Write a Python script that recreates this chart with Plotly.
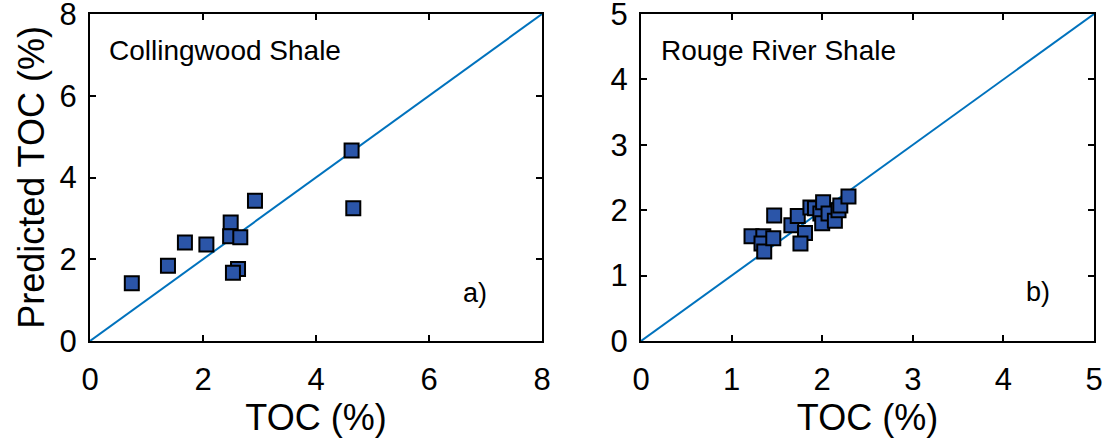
import plotly.graph_objects as go

# Collingwood Shale (panel a)
cw_toc = [0.74, 1.38, 1.68, 2.06, 2.49, 2.48, 2.66, 2.92, 2.62, 2.53, 4.63, 4.66]
cw_pred = [1.41, 1.84, 2.41, 2.36, 2.90, 2.56, 2.54, 3.43, 1.76, 1.67, 4.66, 3.25]

# Rouge River Shale (panel b)
rr_toc = [1.22, 1.35, 1.33, 1.36, 1.46, 1.47, 1.66, 1.73, 1.81, 1.76,
          1.87, 1.92, 1.98, 2.00, 2.01, 2.07, 2.14, 2.18, 2.20, 2.29]
rr_pred = [1.60, 1.60, 1.49, 1.37, 1.57, 1.92, 1.77, 1.91, 1.65, 1.49,
           2.04, 2.03, 1.95, 1.80, 2.12, 1.95, 1.84, 2.00, 2.07, 2.21]

cw_range = [0, 8]
rr_range = [0, 5]
cw_ticks = [0, 2, 4, 6, 8]
rr_ticks = [0, 1, 2, 3, 4, 5]

FONT = "Liberation Sans, Arial, sans-serif"
LINE_BLUE = "#0072BD"
MARK_BLUE = "#2B55A8"

fig = go.Figure()

# 1:1 lines
fig.add_trace(go.Scatter(x=cw_range, y=cw_range, mode="lines",
                         line=dict(color=LINE_BLUE, width=2),
                         xaxis="x", yaxis="y", showlegend=False, hoverinfo="skip"))
fig.add_trace(go.Scatter(x=rr_range, y=rr_range, mode="lines",
                         line=dict(color=LINE_BLUE, width=2),
                         xaxis="x2", yaxis="y2", showlegend=False, hoverinfo="skip"))

marker = dict(symbol="square", size=14, color=MARK_BLUE,
              line=dict(color="black", width=2))
fig.add_trace(go.Scatter(x=cw_toc, y=cw_pred, mode="markers", marker=marker,
                         xaxis="x", yaxis="y", showlegend=False))
fig.add_trace(go.Scatter(x=rr_toc, y=rr_pred, mode="markers", marker=marker,
                         xaxis="x2", yaxis="y2", showlegend=False))

axis_common = dict(showline=True, linecolor="black", linewidth=2, mirror="ticks",
                   ticks="inside", ticklen=6, tickwidth=2, tickcolor="black",
                   showgrid=False, zeroline=False, automargin=False,
                   ticklabeloverflow="allow",
                   tickfont=dict(family=FONT, size=31, color="black"))

W, H = 1105, 448
ML, MR, MT, MB = 90, 11, 14, 107
PW = W - ML - MR
TITLE_FONT = dict(family=FONT, size=36, color="black")

fig.update_layout(
    width=W, height=H,
    margin=dict(l=ML, r=MR, t=MT, b=MB),
    paper_bgcolor="white", plot_bgcolor="white",
    font=dict(family=FONT, color="black"),
    xaxis=dict(axis_common, domain=[0, (542 - ML) / PW], range=cw_range,
               tickvals=cw_ticks, anchor="y", ticklabelstandoff=10,
               title=dict(text="TOC (%)", font=TITLE_FONT, standoff=0)),
    yaxis=dict(axis_common, domain=[0, 1], range=cw_range, tickvals=cw_ticks, anchor="x",
               ticklabelstandoff=5,
               title=dict(text="Predicted TOC (%)", font=TITLE_FONT, standoff=4)),
    xaxis2=dict(axis_common, domain=[(641 - ML) / PW, 1], range=rr_range,
                tickvals=rr_ticks, anchor="y2", ticklabelstandoff=10,
                title=dict(text="TOC (%)", font=TITLE_FONT, standoff=0)),
    yaxis2=dict(axis_common, domain=[0, 1], range=rr_range, tickvals=rr_ticks, anchor="x2",
                ticklabelstandoff=5),
    annotations=[
        dict(text="Collingwood Shale", x=0.3, y=7.1, xref="x", yref="y",
             xanchor="left", yanchor="middle", showarrow=False,
             font=dict(family=FONT, size=28, color="black")),
        dict(text="a)", x=6.82, y=1.17, xref="x", yref="y",
             xanchor="center", yanchor="middle", showarrow=False,
             font=dict(family=FONT, size=27, color="black")),
        dict(text="Rouge River Shale", x=0.2, y=4.44, xref="x2", yref="y2",
             xanchor="left", yanchor="middle", showarrow=False,
             font=dict(family=FONT, size=28, color="black")),
        dict(text="b)", x=4.38, y=0.75, xref="x2", yref="y2",
             xanchor="center", yanchor="middle", showarrow=False,
             font=dict(family=FONT, size=27, color="black")),
    ],
)

fig.write_html("out.html", config={"displayModeBar": False},
               post_script="document.body.style.margin='0';document.body.style.overflow='hidden';")
